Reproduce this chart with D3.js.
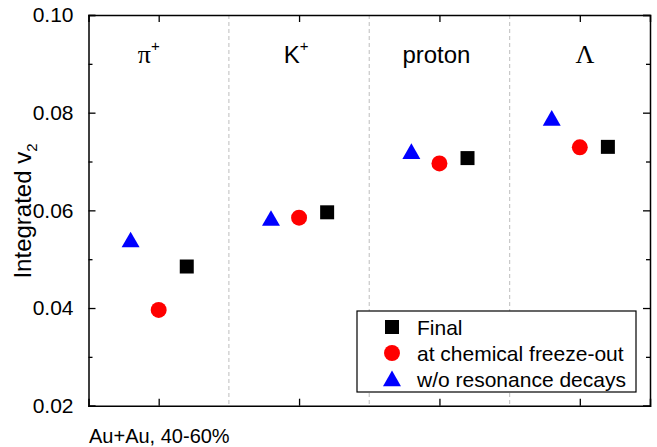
<!DOCTYPE html>
<html><head><meta charset="utf-8">
<script src="https://cdn.jsdelivr.net/npm/d3@7"></script>
<style>body{margin:0;background:#fff}svg{display:block;font-family:"Liberation Sans",Arial,sans-serif}</style>
</head><body><svg id="c" width="657" height="447"></svg>
<script>
const categories = ["π", "K", "proton", "Λ"];
const categorySup = ["+", "+", "", ""];
const finalV2 = [0.0485, 0.0596, 0.0707, 0.0730];
const chemFreezeV2 = [0.0396, 0.0585, 0.0696, 0.0729];
const noResonanceV2 = [0.0535, 0.0579, 0.0716, 0.0784];
const yTicks = [0.02, 0.04, 0.06, 0.08, 0.10];
const seriesNames = ["Final", "at chemical freeze-out", "w/o resonance decays"];

const svg = d3.select("#c");
const L = 88.5, R = 650, T = 15, B = 405.7;
const x = d3.scaleLinear().domain([0.5, categories.length + 0.5]).range([L, R]);
const y = d3.scaleLinear().domain([0.02, 0.10]).range([B, T]);

// dashed separators
for (let i = 1; i < categories.length; i++) {
  svg.append("line").attr("x1", x(i + 0.5)).attr("x2", x(i + 0.5)).attr("y1", T).attr("y2", B)
    .attr("stroke", "#c8c8c8").attr("stroke-width", 1.2).attr("stroke-dasharray", "4,3");
}

// axes
const idx = d3.range(1, categories.length + 1);
const minorY = d3.range(0.03, 0.10, 0.02);
function axisGroup(axis, tx, ty) {
  const g = svg.append("g").attr("transform", `translate(${tx},${ty})`).call(axis);
  g.select(".domain").attr("stroke-width", 1.5);
  g.selectAll(".tick line").attr("stroke-width", 1.3);
  return g;
}
const yl = axisGroup(d3.axisLeft(y).tickValues(yTicks).tickSize(-7).tickPadding(15).tickFormat(d3.format(".2f")), L, 0);
yl.selectAll("text").attr("font-size", 21).attr("fill", "#000");
axisGroup(d3.axisLeft(y).tickValues(minorY).tickSize(-4).tickFormat(""), L, 0).select(".domain").remove();
axisGroup(d3.axisRight(y).tickValues(yTicks).tickSize(-7).tickFormat(""), R, 0);
axisGroup(d3.axisRight(y).tickValues(minorY).tickSize(-4).tickFormat(""), R, 0).select(".domain").remove();
axisGroup(d3.axisBottom(x).tickValues(idx).tickSize(-7).tickFormat(""), 0, B);
axisGroup(d3.axisTop(x).tickValues(idx).tickSize(-7).tickFormat(""), 0, T);
svg.selectAll(".domain").attr("stroke", "#000");

// category labels
const labelDx = [-10, -3, -3, 5];
const greek = ["π", "Λ"];
categories.forEach((c, i) => {
  const t = svg.append("text").attr("x", x(i + 1) + labelDx[i]).attr("y", 63)
    .attr("text-anchor", "middle").attr("font-size", 24).attr("fill", "#000");
  const s = t.append("tspan").text(c);
  if (greek.includes(c)) s.attr("font-family", "'Liberation Serif','Times New Roman',serif").attr("font-size", 26);
  if (categorySup[i]) t.append("tspan").attr("font-size", 15).attr("dy", -12).text(categorySup[i]);
});

// markers
const off = 0.2;
const sq = d3.symbol().type(d3.symbolSquare).size(196);
const ci = d3.symbol().type(d3.symbolCircle).size(200);
const tr = d3.symbol().type(d3.symbolTriangle).size(140);
svg.append("g").selectAll("path").data(noResonanceV2).join("path")
  .attr("d", tr).attr("fill", "#0000ff").attr("transform", (d, i) => `translate(${x(i + 1 - off)},${y(d)})`);
svg.append("g").selectAll("path").data(chemFreezeV2).join("path")
  .attr("d", ci).attr("fill", "#ff0000").attr("transform", (d, i) => `translate(${x(i + 1)},${y(d)})`);
svg.append("g").selectAll("path").data(finalV2).join("path")
  .attr("d", sq).attr("fill", "#000").attr("transform", (d, i) => `translate(${x(i + 1 + off)},${y(d)})`);

// legend
const lg = svg.append("g");
lg.append("rect").attr("x", 357).attr("y", 311).attr("width", 279).attr("height", 81)
  .attr("fill", "#fff").attr("stroke", "#000").attr("stroke-width", 1.2);
const syms = [[sq, "#000"], [ci, "#ff0000"], [tr, "#0000ff"]];
seriesNames.forEach((n, i) => {
  const yy = 327 + i * 26;
  lg.append("path").attr("d", syms[i][0]).attr("fill", syms[i][1]).attr("transform", `translate(392,${yy + (i === 2 ? 2 : 0)})`);
  lg.append("text").attr("x", 417).attr("y", yy).attr("dy", "0.36em").attr("font-size", 21).attr("fill", "#000").text(n);
});

// y title
const yt = svg.append("text").attr("transform", "translate(31,211) rotate(-90)").attr("text-anchor", "middle")
  .attr("font-size", 24).attr("fill", "#000");
yt.append("tspan").text("Integrated v");
yt.append("tspan").attr("font-size", 15).attr("dy", 6).text("2");

// annotation
svg.append("text").attr("x", 89).attr("y", 443).attr("font-size", 20).attr("fill", "#000").text("Au+Au, 40-60%");
</script></body></html>
